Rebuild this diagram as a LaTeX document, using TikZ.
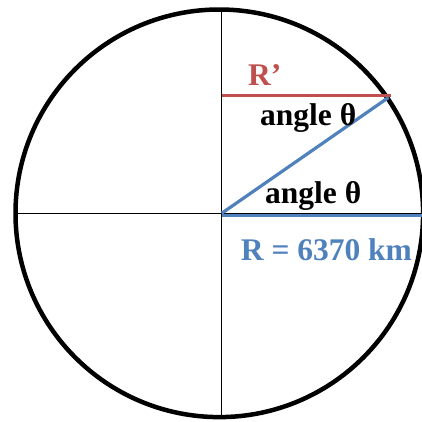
\documentclass[tikz,border=0pt]{standalone}
\usepackage{fontspec}
\setmainfont{Liberation Serif}
\definecolor{earthred}{RGB}{192,80,77}
\definecolor{earthblue}{RGB}{79,129,189}

\begin{document}
\begin{tikzpicture}[x=1pt,y=-1pt,
    lbl/.style={font=\fontsize{31.5}{36}\selectfont\bfseries,inner sep=0pt,anchor=base west},
    axis/.style={line width=1.3pt},
    radius line/.style={line width=3.2pt}]
  \useasboundingbox (0,0) rectangle (422,421);
  \clip (0,0) rectangle (422,421);
  \coordinate (centre) at (219.3,213.3);
  \coordinate (origin) at (221.7,213.3);
  \coordinate (rim) at (388.5,97.5);
  % earth and axes
  \draw[line width=4.5pt] (centre) circle[radius=203.8];
  \draw[axis] (221.7,8) -- (221.7,419);
  \draw[axis] (15,213.3) -- (422,213.3);
  % radii
  \draw[radius line,earthred] (221.7,95.7) -- (390.7,95.7);
  \draw[radius line,earthblue] (221.7,215.8) -- (422,215.8);
  \draw[radius line,earthblue] (origin) -- (rim);
  % labels
  \node[lbl,text=earthred] (rprime) at (248,85.7) {R’};
  \node[lbl] (upperangle) at (260,125) {angle θ};
  \node[lbl] (lowerangle) at (265,203) {angle θ};
  \node[lbl,text=earthblue] (rearth) at (240.7,260.7) {R = 6370 km};
\end{tikzpicture}
\end{document}
